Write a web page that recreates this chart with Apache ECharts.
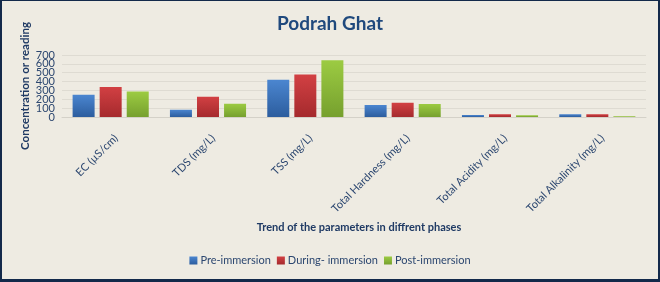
<!DOCTYPE html>
<html><head><meta charset="utf-8">
<script src="https://cdn.jsdelivr.net/npm/echarts@6/dist/echarts.min.js"></script>
<style>
html,body{margin:0;padding:0;background:#eeebe2;}
#c{width:656px;height:278px;border:2px solid #13294a;border-top-width:1px;border-bottom-width:3px;box-sizing:content-box;}
</style></head>
<body><div id="c"></div>
<script>
const categories = ['EC (µS/cm)', 'TDS (mg/L)', 'TSS (mg/L)', 'Total Hardness (mg/L)', 'Total Acidity (mg/L)', 'Total Alkalinity (mg/L)'];
const preImmersion = [250, 83, 420, 135, 22, 32];
const duringImmersion = [340, 230, 480, 160, 32, 32];
const postImmersion = [287, 151, 640, 147, 20, 8];
const yTicks = [0, 100, 200, 300, 400, 500, 600, 700];

const font = 'Lato';
function grad(top, bottom) {
  return new echarts.graphic.LinearGradient(0, 0, 0, 1, [{offset: 0, color: top}, {offset: 1, color: bottom}]);
}
// Tick labels are tightly packed (as in the reference), so the even and odd
// labels are put on two coincident value axes to keep ECharts from hiding any.
function yLabelAxis(parity, extra) {
  return Object.assign({
    type: 'value', min: 0, max: 700, interval: 100, position: 'left',
    axisLine: {show: false}, axisTick: {show: false},
    axisLabel: {margin: 7, fontFamily: font, fontSize: 11, color: '#2c4770',
      formatter: v => (yTicks.includes(v) && (v / 100) % 2 === parity) ? String(v) : ''},
    splitLine: {show: false}
  }, extra);
}
const chart = echarts.init(document.getElementById('c'), null, {renderer: 'canvas'});
chart.setOption({
  backgroundColor: '#eeebe2',
  textStyle: {fontFamily: font},
  title: [
    {text: 'Podrah Ghat', left: 'center', top: 8, textStyle: {fontFamily: font, fontSize: 19, fontWeight: 'bold', color: '#1f497d'}},
    {text: 'Trend of the parameters in diffrent phases', left: 352, top: 216, textAlign: 'center', textStyle: {fontFamily: font, fontSize: 11, fontWeight: 'bold', color: '#1f3a64'}}
  ],
  legend: {
    bottom: 8, left: 'center', itemWidth: 8, itemHeight: 8, itemGap: 6, icon: 'rect',
    textStyle: {fontFamily: font, fontSize: 11, color: '#2c4770', padding: [0, 0, 0, -2]},
    data: ['Pre-immersion', 'During- immersion', 'Post-immersion']
  },
  grid: {left: 60, right: 12, top: 54, bottom: 162, containLabel: false},
  xAxis: {
    type: 'category', data: categories,
    axisLine: {show: true, lineStyle: {color: '#d4d1c8'}},
    axisTick: {show: false},
    axisLabel: {rotate: 45, interval: 0, margin: 14, verticalAlign: 'top', lineHeight: 15, fontFamily: font, fontSize: 11, color: '#2c4770'}
  },
  yAxis: [
    yLabelAxis(0, {
      name: 'Concentration or reading', nameLocation: 'middle', nameGap: 31, nameRotate: 90, nameMoveOverlap: false,
      nameTextStyle: {fontFamily: font, fontSize: 11.5, fontWeight: 'bold', color: '#1f3a64'},
      splitLine: {show: true, lineStyle: {color: '#dedbd2', width: 1}}
    }),
    yLabelAxis(1, {offset: 0})
  ],
  series: [
    {name: 'Pre-immersion', type: 'bar', data: preImmersion, barWidth: 22, barGap: '23%', itemStyle: {color: grad('#4b86d0', '#2c5d9e')}},
    {name: 'During- immersion', type: 'bar', data: duringImmersion, barWidth: 22, barGap: '23%', itemStyle: {color: grad('#d24043', '#a52a2d')}},
    {name: 'Post-immersion', type: 'bar', data: postImmersion, barWidth: 22, barGap: '23%', itemStyle: {color: grad('#9ccb42', '#76a02e')}}
  ]
});
</script></body></html>
